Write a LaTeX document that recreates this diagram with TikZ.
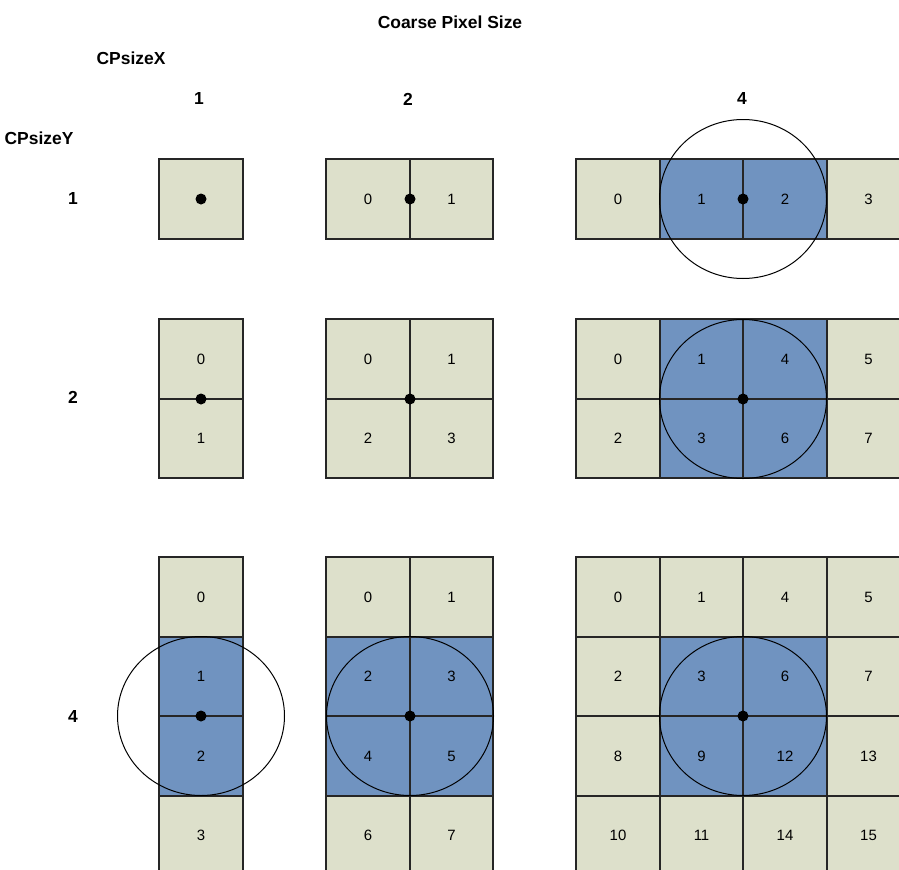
\documentclass[tikz,border=0pt]{standalone}
\usepackage{fontspec}
\setmainfont{Liberation Sans}
\definecolor{beige}{HTML}{DDE0CB}
\definecolor{cpblue}{HTML}{7093C0}
\definecolor{edgec}{HTML}{262626}
% #1 name, #2 x0, #3 y0, #4 list i/j/text/style
\newcommand\cpgrid[4]{%
  \foreach \i/\j/\t/\s in {#4} {
    \pgfmathsetmacro\cpxa{#2+round(83.5*\i)}
    \pgfmathsetmacro\cpxb{#2+round(83.5*(\i+1))}
    \pgfmathsetmacro\cpya{#3+round(79.5*\j)}
    \pgfmathsetmacro\cpyb{#3+round(79.5*(\j+1))}
    \fill[\s] (\cpxa,\cpya) rectangle (\cpxb,\cpyb);
    \node[numtxt] (#1-\i-\j) at ({(\cpxa+\cpxb)/2},{(\cpya+\cpyb)/2}) {\t};
  }
  \foreach \i/\j/\t/\s in {#4} {
    \pgfmathsetmacro\cpxa{#2+round(83.5*\i)}
    \pgfmathsetmacro\cpxb{#2+round(83.5*(\i+1))}
    \pgfmathsetmacro\cpya{#3+round(79.5*\j)}
    \pgfmathsetmacro\cpyb{#3+round(79.5*(\j+1))}
    \draw[cellborder] (\cpxa,\cpya) rectangle (\cpxb,\cpyb);
  }
}
\begin{document}
\begin{tikzpicture}[x=1bp,y=-1bp,
  cell/.style={fill=beige},
  hot/.style={fill=cpblue},
  numtxt/.style={inner sep=0pt, font=\fontsize{15}{15}\selectfont},
  cellborder/.style={draw=edgec, line width=2bp, line join=miter},
  lbl/.style={font=\fontsize{17.5}{17.5}\selectfont\bfseries, inner sep=0pt},
  cdot/.style={circle, fill=black, minimum size=11bp, inner sep=0pt},
  ring/.style={draw=black, line width=1bp}]
\useasboundingbox (0,0) rectangle (899,870);
\fill[white] (0,0) rectangle (899,870);
\clip (0,0) rectangle (899,870);

% labels
\node[lbl] (title) at (450,22) {Coarse Pixel Size};
\node[lbl] (cpx) at (131,58) {CPsizeX};
\node[lbl] (cpy) at (39,138) {CPsizeY};
\node[lbl] (x1) at (199,99) {1};
\node[lbl] (x2) at (408,99) {2};
\node[lbl] (x4) at (742,99) {4};
\node[lbl] (y1) at (73,198) {1};
\node[lbl] (y2) at (73,397) {2};
\node[lbl] (y4) at (73,716) {4};

% Y=1
\cpgrid{g11}{159}{159}{0/0//cell}
\cpgrid{g21}{326}{159}{0/0/0/cell,1/0/1/cell}
\cpgrid{g41}{576}{159}{0/0/0/cell,1/0/1/hot,2/0/2/hot,3/0/3/cell}

% Y=2
\cpgrid{g12}{159}{319}{0/0/0/cell,0/1/1/cell}
\cpgrid{g22}{326}{319}{0/0/0/cell,1/0/1/cell,0/1/2/cell,1/1/3/cell}
\cpgrid{g42}{576}{319}{0/0/0/cell,1/0/1/hot,2/0/4/hot,3/0/5/cell,
                       0/1/2/cell,1/1/3/hot,2/1/6/hot,3/1/7/cell}

% Y=4
\cpgrid{g14}{159}{557}{0/0/0/cell,0/1/1/hot,0/2/2/hot,0/3/3/cell}
\cpgrid{g24}{326}{557}{0/0/0/cell,1/0/1/cell,0/1/2/hot,1/1/3/hot,
                       0/2/4/hot,1/2/5/hot,0/3/6/cell,1/3/7/cell}
\cpgrid{g44}{576}{557}{0/0/0/cell,1/0/1/cell,2/0/4/cell,3/0/5/cell,
                       0/1/2/cell,1/1/3/hot,2/1/6/hot,3/1/7/cell,
                       0/2/8/cell,1/2/9/hot,2/2/12/hot,3/2/13/cell,
                       0/3/10/cell,1/3/11/cell,2/3/14/cell,3/3/15/cell}

% centres
\coordinate (c11) at (201,199);
\coordinate (c21) at (410,199);
\coordinate (c41) at (743,199);
\coordinate (c12) at (201,399);
\coordinate (c22) at (410,399);
\coordinate (c42) at (743,399);
\coordinate (c14) at (201,716);
\coordinate (c24) at (410,716);
\coordinate (c44) at (743,716);

% rings
\foreach \c in {c41,c42,c14,c24,c44}
  \draw[ring] (\c) ellipse [x radius=83.5bp, y radius=79.5bp];

% dots
\foreach \c in {c11,c21,c41,c12,c22,c42,c14,c24,c44}
  \node[cdot] (d\c) at (\c) {};
\end{tikzpicture}
\end{document}
